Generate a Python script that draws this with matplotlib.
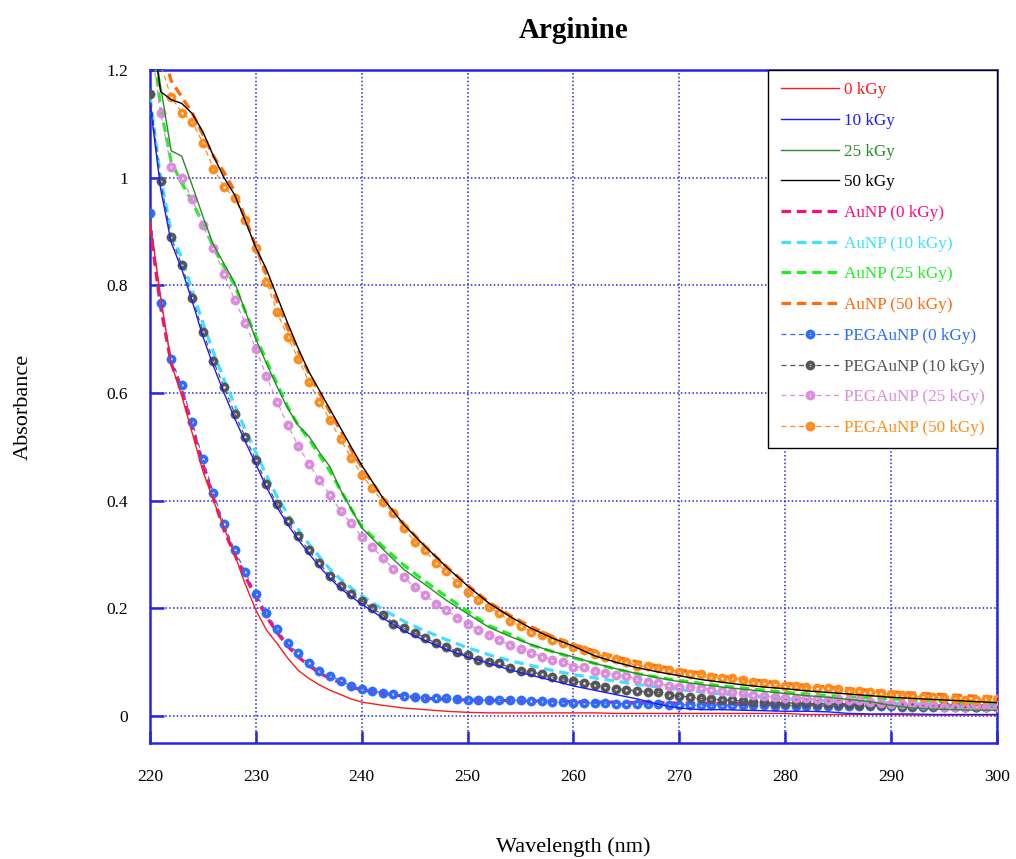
import numpy as np
import matplotlib
matplotlib.use("Agg")
import matplotlib.pyplot as plt
from matplotlib.path import Path

plt.rcParams['font.family'] = ['Liberation Serif', 'DejaVu Serif']

# wavelength grids (nm)
wl_pts = list(range(220, 301))                       # PEGAuNP data, every 1 nm
wl_line = list(range(220, 241)) + list(range(242, 301, 2))

# plain arginine, solid lines
abs_0 = [0.92, 0.78, 0.655, 0.595, 0.525, 0.455, 0.40, 0.35, 0.30, 0.245, 0.197,
         0.16, 0.135, 0.108, 0.085, 0.07, 0.058, 0.048, 0.04, 0.032, 0.026,
         0.02, 0.015, 0.012, 0.009, 0.007, 0.006, 0.006, 0.006, 0.006, 0.006,
         0.006, 0.005, 0.005, 0.005, 0.005, 0.005, 0.005, 0.005, 0.005, 0.005,
         0.003, 0.003, 0.003, 0.003, 0.003, 0.002, 0.002, 0.002, 0.002, 0.002]
abs_10 = [1.14, 0.98, 0.88, 0.83, 0.77, 0.705, 0.65, 0.60, 0.553, 0.51, 0.468,
          0.425, 0.388, 0.356, 0.328, 0.302, 0.278, 0.256, 0.237, 0.222, 0.208,
          0.182, 0.158, 0.14, 0.124, 0.11, 0.098, 0.086, 0.076, 0.066, 0.056,
          0.048, 0.040, 0.032, 0.022, 0.015, 0.012, 0.012, 0.011, 0.010, 0.009,
          0.009, 0.008, 0.005, 0.004, 0.004, 0.004, 0.003, 0.003, 0.003, 0.003]
abs_25 = [1.30, 1.17, 1.05, 1.04, 0.985, 0.928, 0.875, 0.84, 0.805, 0.752, 0.70,
          0.655, 0.612, 0.572, 0.54, 0.52, 0.49, 0.463, 0.42, 0.385, 0.35,
          0.31, 0.272, 0.244, 0.215, 0.19, 0.165, 0.148, 0.133, 0.12, 0.11,
          0.098, 0.088, 0.079, 0.071, 0.064, 0.059, 0.054, 0.05, 0.046, 0.042,
          0.038, 0.035, 0.031, 0.027, 0.02, 0.015, 0.013, 0.012, 0.011, 0.011]
abs_50 = [1.30, 1.16, 1.145, 1.138, 1.119, 1.085, 1.04, 1.0, 0.968, 0.92, 0.87,
          0.83, 0.78, 0.73, 0.683, 0.64, 0.605, 0.57, 0.535, 0.50, 0.466,
          0.405, 0.355, 0.315, 0.277, 0.242, 0.21, 0.185, 0.163, 0.145, 0.13,
          0.112, 0.10, 0.09, 0.082, 0.075, 0.068, 0.063, 0.058, 0.054, 0.051,
          0.047, 0.044, 0.041, 0.038, 0.035, 0.033, 0.031, 0.029, 0.027, 0.025]

# AuNP, thick dashed lines
aunp_0 = [0.91, 0.76, 0.655, 0.605, 0.535, 0.468, 0.405, 0.345, 0.30, 0.26, 0.22,
          0.185, 0.155, 0.13, 0.11, 0.094, 0.08, 0.07, 0.062, 0.054, 0.049,
          0.042, 0.037, 0.033, 0.031, 0.030, 0.029, 0.029, 0.028, 0.028, 0.027,
          0.026, 0.026, 0.025, 0.025, 0.024, 0.024, 0.023, 0.023, 0.022, 0.022,
          0.022, 0.021, 0.021, 0.021, 0.020, 0.020, 0.019, 0.019, 0.019, 0.018]
aunp_10 = [1.15, 1.0, 0.90, 0.85, 0.79, 0.73, 0.675, 0.625, 0.578, 0.532, 0.49,
           0.447, 0.408, 0.375, 0.347, 0.32, 0.296, 0.273, 0.254, 0.238, 0.224,
           0.198, 0.176, 0.158, 0.142, 0.127, 0.114, 0.103, 0.094, 0.085, 0.077,
           0.071, 0.065, 0.059, 0.054, 0.049, 0.045, 0.041, 0.038, 0.035, 0.032,
           0.030, 0.028, 0.026, 0.025, 0.024, 0.023, 0.022, 0.021, 0.021, 0.020]
aunp_25 = [1.30, 1.13, 1.03, 0.99, 0.955, 0.915, 0.87, 0.835, 0.80, 0.752, 0.705,
           0.66, 0.617, 0.575, 0.54, 0.515, 0.485, 0.455, 0.42, 0.385, 0.352,
           0.315, 0.28, 0.25, 0.222, 0.195, 0.168, 0.152, 0.132, 0.120, 0.108,
           0.098, 0.087, 0.079, 0.072, 0.066, 0.061, 0.056, 0.052, 0.048, 0.044,
           0.041, 0.038, 0.036, 0.034, 0.032, 0.030, 0.028, 0.026, 0.025, 0.024]
aunp_50 = [1.35, 1.25, 1.18, 1.15, 1.12, 1.08, 1.04, 1.01, 0.975, 0.925, 0.872,
           0.82, 0.77, 0.72, 0.678, 0.637, 0.60, 0.565, 0.53, 0.495, 0.462,
           0.405, 0.357, 0.315, 0.278, 0.243, 0.212, 0.187, 0.166, 0.148, 0.133,
           0.121, 0.11, 0.101, 0.093, 0.086, 0.08, 0.074, 0.069, 0.065, 0.061,
           0.057, 0.054, 0.051, 0.048, 0.045, 0.043, 0.041, 0.039, 0.037, 0.035]

# PEGAuNP, dashed lines with markers
peg_0 = [0.935, 0.768, 0.663, 0.615, 0.546, 0.477, 0.414, 0.356, 0.308, 0.268,
         0.227, 0.192, 0.161, 0.135, 0.117, 0.098, 0.084, 0.075, 0.066, 0.056,
         0.051, 0.047, 0.043, 0.041, 0.038, 0.035, 0.034, 0.033, 0.033, 0.032,
         0.030, 0.030, 0.030, 0.029, 0.030, 0.029, 0.028, 0.028, 0.027, 0.026,
         0.025, 0.025, 0.024, 0.024, 0.023, 0.023, 0.022, 0.022, 0.022, 0.021,
         0.021, 0.021, 0.021, 0.020, 0.021, 0.020, 0.020, 0.020, 0.020, 0.019,
         0.020, 0.019, 0.019, 0.019, 0.019, 0.018, 0.018, 0.018, 0.018, 0.018,
         0.018, 0.017, 0.017, 0.017, 0.017, 0.017, 0.016, 0.017, 0.016, 0.016,
         0.016]
peg_10 = [1.155, 0.994, 0.889, 0.838, 0.777, 0.714, 0.659, 0.611, 0.562, 0.518,
          0.476, 0.432, 0.394, 0.362, 0.334, 0.308, 0.284, 0.260, 0.241, 0.227,
          0.214, 0.200, 0.188, 0.172, 0.163, 0.154, 0.146, 0.135, 0.129, 0.119,
          0.113, 0.105, 0.101, 0.098, 0.090, 0.084, 0.082, 0.078, 0.072, 0.069,
          0.066, 0.062, 0.058, 0.055, 0.051, 0.049, 0.047, 0.045, 0.044, 0.039,
          0.038, 0.035, 0.033, 0.032, 0.030, 0.029, 0.028, 0.026, 0.026, 0.025,
          0.025, 0.024, 0.024, 0.023, 0.023, 0.022, 0.022, 0.021, 0.021, 0.020,
          0.020, 0.019, 0.019, 0.019, 0.018, 0.018, 0.018, 0.017, 0.017, 0.017,
          0.016]
peg_25 = [1.26, 1.121, 1.02, 0.999, 0.960, 0.912, 0.869, 0.821, 0.773, 0.730,
          0.682, 0.632, 0.584, 0.541, 0.502, 0.469, 0.438, 0.411, 0.381, 0.358,
          0.333, 0.314, 0.293, 0.274, 0.258, 0.239, 0.225, 0.209, 0.197, 0.183,
          0.172, 0.160, 0.151, 0.141, 0.132, 0.124, 0.118, 0.110, 0.105, 0.101,
          0.092, 0.091, 0.084, 0.081, 0.076, 0.074, 0.069, 0.064, 0.061, 0.056,
          0.055, 0.054, 0.053, 0.048, 0.046, 0.045, 0.043, 0.040, 0.037, 0.036,
          0.033, 0.034, 0.033, 0.032, 0.030, 0.031, 0.030, 0.030, 0.027, 0.024,
          0.023, 0.022, 0.022, 0.021, 0.021, 0.017, 0.017, 0.017, 0.018, 0.017,
          0.016]
peg_50 = [1.30, 1.21, 1.15, 1.121, 1.104, 1.064, 1.017, 0.983, 0.962, 0.921,
          0.869, 0.807, 0.751, 0.704, 0.664, 0.621, 0.584, 0.550, 0.514, 0.480,
          0.448, 0.423, 0.398, 0.377, 0.349, 0.324, 0.308, 0.284, 0.270, 0.248,
          0.231, 0.215, 0.203, 0.191, 0.177, 0.167, 0.157, 0.150, 0.141, 0.135,
          0.128, 0.123, 0.116, 0.110, 0.107, 0.101, 0.093, 0.093, 0.089, 0.086,
          0.082, 0.079, 0.079, 0.073, 0.071, 0.071, 0.067, 0.064, 0.062, 0.059,
          0.056, 0.056, 0.054, 0.053, 0.053, 0.050, 0.047, 0.047, 0.044, 0.043,
          0.041, 0.039, 0.037, 0.036, 0.035, 0.033, 0.031, 0.030, 0.030, 0.031,
          0.031]

x_ticks = [220, 230, 240, 250, 260, 270, 280, 290, 300]
y_ticks = [0, 0.2, 0.4, 0.6, 0.8, 1, 1.2]
y_labels = ['0', '0.2', '0.4', '0.6', '0.8', '1', '1.2']

# ring marker: coloured circle with a small hollow centre
t = np.linspace(0, 2 * np.pi, 17)[:-1]
outer = np.column_stack([np.cos(t), np.sin(t)])
inner = 0.32 * np.column_stack([np.cos(t[::-1]), np.sin(t[::-1])])
verts = np.vstack([outer, outer[:1], inner, inner[:1]])
codes = ([Path.MOVETO] + [Path.LINETO] * 15 + [Path.CLOSEPOLY]) * 2
ring = Path(verts, codes)

fig = plt.figure(figsize=(10.16, 8.59), dpi=100)
ax = fig.add_axes([0.1476, 0.135, 0.8337, 0.7835])

solid = [(abs_0, '0 kGy', '#ff1a1a'), (abs_10, '10 kGy', '#1a1aff'),
         (abs_25, '25 kGy', '#2a8a2a'), (abs_50, '50 kGy', '#000000')]
dashed = [(aunp_0, 'AuNP (0 kGy)', '#ff0a80'), (aunp_10, 'AuNP (10 kGy)', '#3de0ff'),
          (aunp_25, 'AuNP (25 kGy)', '#1ef01e'), (aunp_50, 'AuNP (50 kGy)', '#ff6a0a')]
marked = [(peg_0, 'PEGAuNP (0 kGy)', '#2a6cff'), (peg_10, 'PEGAuNP (10 kGy)', '#555555'),
          (peg_25, 'PEGAuNP (25 kGy)', '#dc8cdc'), (peg_50, 'PEGAuNP (50 kGy)', '#ff8c1a')]

for vals, lab, col in solid:
    ax.plot(wl_line, vals, '-', color=col, lw=1.0, label=lab, zorder=5)
for vals, lab, col in dashed:
    ax.plot(wl_line, vals, color=col, lw=2.3, dashes=(3.0, 1.8), label=lab, zorder=3)
for vals, lab, col in marked:
    ax.plot(wl_pts, vals, color=col, lw=0.9, dashes=(4, 3), marker=ring,
            markersize=6.8, markerfacecolor=col, markeredgecolor=col,
            markeredgewidth=0.3, label=lab, zorder=4)

ax.set_xlim(220, 300)
ax.set_ylim(-0.05, 1.2)
ax.set_xticks(x_ticks)
ax.set_xticklabels([str(v) for v in x_ticks])
ax.set_yticks(y_ticks)
ax.set_yticklabels(y_labels)

blue = '#2525e8'
for s in ax.spines.values():
    s.set_color(blue)
    s.set_linewidth(1.8)
ax.tick_params(axis='both', direction='in', color=blue, width=1.8,
               labelsize=12.5, top=False, right=False)
ax.tick_params(axis='x', length=9, pad=19)
ax.tick_params(axis='y', length=10, pad=16)
ax.grid(True, color=blue, linestyle=(0, (1, 1.5)), linewidth=1.1)
ax.set_axisbelow(True)

ax.set_title('Arginine', fontsize=21, fontweight='bold', pad=23)
ax.set_xlabel('Wavelength (nm)', fontsize=16, labelpad=37)
ax.set_ylabel('Absorbance', fontsize=16, labelpad=53)

leg = ax.legend(loc='upper right', borderaxespad=0, fancybox=False,
                framealpha=1, edgecolor='black', fontsize=12.3,
                labelcolor='linecolor', handlelength=3.4, handletextpad=0.3,
                labelspacing=0.86, borderpad=0.72)
leg.get_frame().set_linewidth(1.0)
leg.set_zorder(10)

fig.savefig('out.png', dpi=100)
